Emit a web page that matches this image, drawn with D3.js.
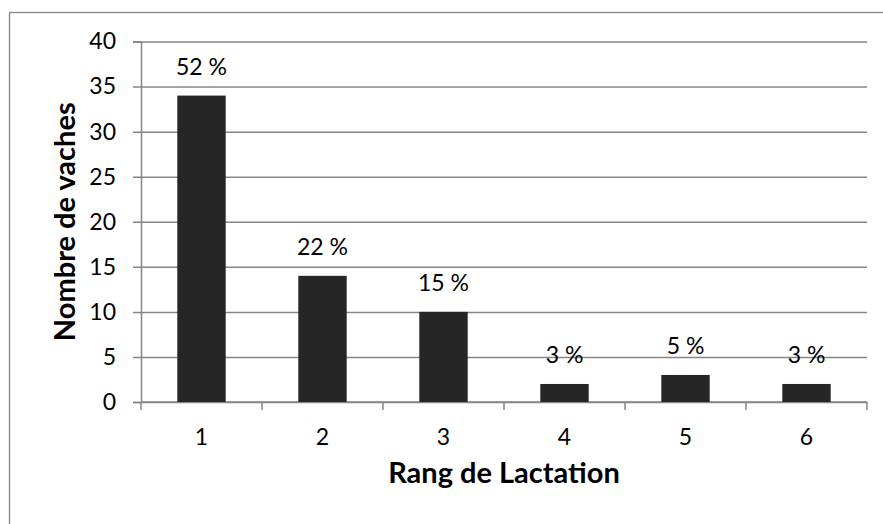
<!DOCTYPE html>
<html>
<head>
<meta charset="utf-8">
<script src="https://d3js.org/d3.v7.min.js"></script>
<style>
  body { margin: 0; background: #fff; }
  text { font-family: Lato, "Open Sans", sans-serif; fill: #000; }
</style>
</head>
<body>
<script>
// data
var rangs = ["1", "2", "3", "4", "5", "6"];
var vaches = [34, 14, 10, 2, 3, 2];
var pourcents = ["52 %", "22 %", "15 %", "3 %", "5 %", "3 %"];
var yTicks = [0, 5, 10, 15, 20, 25, 30, 35, 40];

var w = 883, h = 524;
var mLeft = 141, mRight = 867, mTop = 41.5, mBottom = 402;

var svg = d3.select("body").append("svg")
  .attr("width", w)
  .attr("height", h);

// outer frame
svg.append("rect")
  .attr("x", 9.5).attr("y", 12.5)
  .attr("width", 900).attr("height", 600)
  .attr("fill", "none")
  .attr("stroke", "#868686")
  .attr("stroke-width", 1.3);

var x = d3.scaleBand()
  .domain(rangs)
  .range([mLeft, mRight])
  .paddingInner(0.6)
  .paddingOuter(0.3);

var y = d3.scaleLinear()
  .domain([0, 40])
  .range([mBottom, mTop]);

// gridlines + y axis
var yAxis = svg.append("g")
  .attr("transform", "translate(" + mLeft + ",0)")
  .call(d3.axisLeft(y).tickValues(yTicks).tickSize(8).tickPadding(9));
yAxis.select(".domain").attr("stroke", "#868686").attr("stroke-width", 1.5);
yAxis.selectAll(".tick line").attr("stroke", "#868686").attr("stroke-width", 1.5)
  .attr("x2", mRight - mLeft).attr("x1", -8);
yAxis.selectAll(".tick text")
  .attr("x", -25)
  .style("font-size", "23px");

// x axis
var xOuter = d3.scalePoint().domain(d3.range(7)).range([mLeft, mRight]);
var xAxisG = svg.append("g")
  .attr("transform", "translate(0," + mBottom + ")");
xAxisG.append("line")
  .attr("x1", mLeft).attr("x2", mRight)
  .attr("stroke", "#868686").attr("stroke-width", 1.5);
xAxisG.selectAll(".tk")
  .data(d3.range(7))
  .enter().append("line")
  .attr("x1", function(d) { return xOuter(d); })
  .attr("x2", function(d) { return xOuter(d); })
  .attr("y1", 0).attr("y2", 8)
  .attr("stroke", "#868686").attr("stroke-width", 1.5);
xAxisG.selectAll(".lbl")
  .data(rangs)
  .enter().append("text")
  .attr("x", function(d) { return x(d) + x.bandwidth() / 2; })
  .attr("y", 43)
  .attr("text-anchor", "middle")
  .style("font-size", "23px")
  .text(function(d) { return d; });

// bars
svg.selectAll(".bar")
  .data(vaches)
  .enter().append("rect")
  .attr("class", "bar")
  .attr("x", function(d, i) { return x(rangs[i]); })
  .attr("y", function(d) { return y(d); })
  .attr("width", x.bandwidth())
  .attr("height", function(d) { return y(0) - y(d); })
  .attr("fill", "#262626");

// percentage labels
svg.selectAll(".pct")
  .data(vaches)
  .enter().append("text")
  .attr("x", function(d, i) { return x(rangs[i]) + x.bandwidth() / 2; })
  .attr("y", function(d) { return y(d) - 21; })
  .attr("text-anchor", "middle")
  .style("font-size", "23px")
  .text(function(d, i) { return pourcents[i]; });

// axis titles
svg.append("text")
  .attr("x", (mLeft + mRight) / 2)
  .attr("y", 483)
  .attr("text-anchor", "middle")
  .style("font-size", "29px")
  .style("font-weight", "bold")
  .text("Rang de Lactation");

svg.append("text")
  .attr("transform", "translate(75," + (mTop + mBottom) / 2 + ") rotate(-90)")
  .attr("text-anchor", "middle")
  .style("font-size", "29px")
  .style("font-weight", "bold")
  .text("Nombre de vaches");
</script>
</body>
</html>
